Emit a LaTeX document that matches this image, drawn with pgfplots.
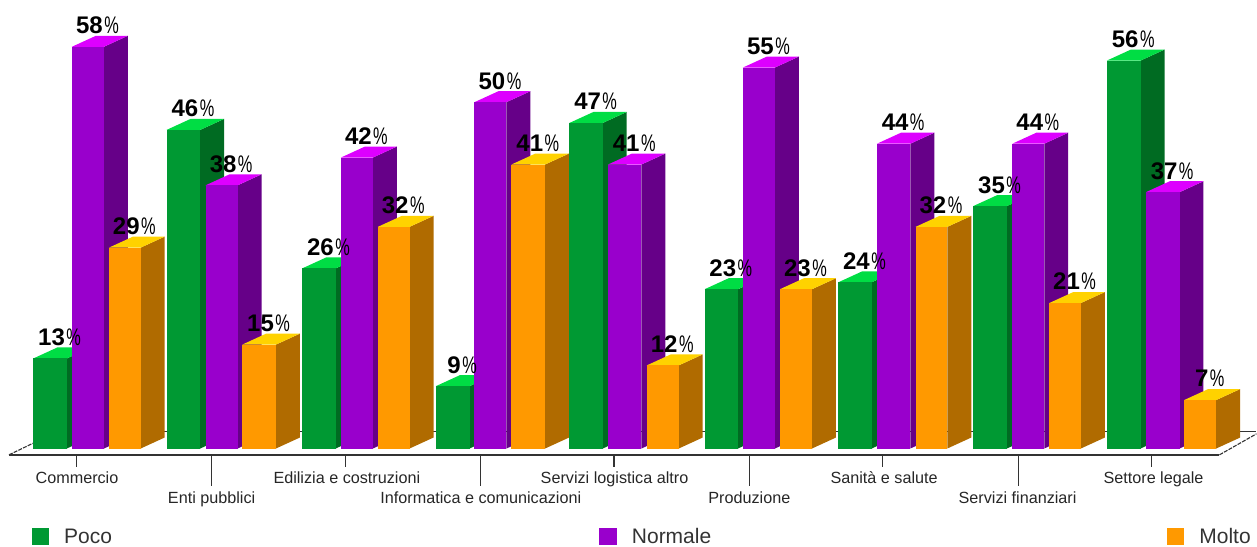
\documentclass[border=0pt]{standalone}
\usepackage{fontspec}
\setmainfont{Liberation Sans}
\usepackage{pgfplots}
\pgfplotsset{compat=1.18}

\definecolor{poco}{HTML}{009933}
\definecolor{pocoside}{HTML}{006B22}
\definecolor{pocotop}{HTML}{00DD44}
\definecolor{normale}{HTML}{9900CC}
\definecolor{normaleside}{HTML}{660088}
\definecolor{normaletop}{HTML}{DD00FF}
\definecolor{molto}{HTML}{FF9900}
\definecolor{moltoside}{HTML}{B06B00}
\definecolor{moltotop}{HTML}{FFD200}
\definecolor{axisline}{HTML}{333333}

% depth of the extruded bars: 24 units right, 11 px up at 6.93 px per percent
\newcommand{\depthx}{24}
\newcommand{\depthy}{1.587}

% value label: bold digits with a condensed regular percent sign
\newcommand{\vallabel}[1]{\fontsize{24}{24}\selectfont\textbf{#1}\hspace{1.5pt}\scalebox{0.68}[1]{\%}}

% one extruded bar: left edge, right edge, percent value, colour name
\newcommand{\drawbar}[4]{%
  \pgfmathsetmacro{\xb}{#2+\depthx}%
  \pgfmathsetmacro{\xa}{#1+\depthx}%
  \pgfmathsetmacro{\yb}{#3+\depthy}%
  \edef\temp{%
    \noexpand\addplot[fill=#4side,draw=none] coordinates {(#2,0) (\xb,\depthy) (\xb,\yb) (#2,#3)} --cycle;
    \noexpand\addplot[fill=#4top,draw=none] coordinates {(#1,#3) (\xa,\yb) (\xb,\yb) (#2,#3)} --cycle;
    \noexpand\addplot[fill=#4,draw=none] coordinates {(#1,0) (#1,#3) (#2,#3) (#2,0)} --cycle;
  }\temp}

% percent label sitting above the back edge of a bar
\newcommand{\drawlabel}[4]{%
  \pgfmathsetmacro{\lx}{(#1+#2+\depthx)/2-2.5}%
  \pgfmathsetmacro{\ly}{#3+\depthy+0.3}%
  \edef\temp{\noexpand\node[anchor=base,inner sep=0pt] at (axis cs:\lx,\ly) {\noexpand\vallabel{#3}};}\temp}

% left edge, right edge, value and series of every bar, group by group
\newcommand{\allbars}{%
  \B{33.3}{66.8}{13}{poco}\B{72}{104}{58}{normale}\B{109}{140.7}{29}{molto}%
  \B{166.7}{200.3}{46}{poco}\B{205.7}{237.7}{38}{normale}\B{242.3}{276}{15}{molto}%
  \B{302.3}{335.8}{26}{poco}\B{341}{373}{42}{normale}\B{378}{409.7}{32}{molto}%
  \B{436}{469.7}{9}{poco}\B{474.7}{506.7}{50}{normale}\B{511.7}{545.3}{41}{molto}%
  \B{569.7}{603}{47}{poco}\B{608.3}{641.7}{41}{normale}\B{647}{679}{12}{molto}%
  \B{705}{738.3}{23}{poco}\B{743.3}{775.3}{55}{normale}\B{780.3}{812.3}{23}{molto}%
  \B{838.7}{872}{24}{poco}\B{877.3}{910.7}{44}{normale}\B{916}{947.7}{32}{molto}%
  \B{973.7}{1007.3}{35}{poco}\B{1012.7}{1044.7}{44}{normale}\B{1049.7}{1081.3}{21}{molto}%
  \B{1107.3}{1141}{56}{poco}\B{1146.3}{1180}{37}{normale}\B{1184.7}{1216.7}{7}{molto}%
}

\newcommand{\catlabel}[3]{\node[anchor=base,inner sep=0pt,text=black!85,font=\fontsize{16.2}{16.2}\selectfont] at (axis cs:#1,#2) {#3};}
\newcommand{\legendtext}[2]{\node[anchor=base west,inner sep=0pt,text=black!80,font=\fontsize{21}{21}\selectfont] at (axis cs:#1,-13.75) {#2};}

\begin{document}
\begin{tikzpicture}
\begin{axis}[
  scale only axis,
  width=1257pt, height=547pt,
  xmin=0, xmax=1257,
  ymin=-14.18, ymax=64.75,
  hide axis,
  clip=false,
]
% keep the whole plotting area in the picture's bounding box
\path (rel axis cs:0,0) rectangle (rel axis cs:1,1);

% floor: back edge, front edge and the slanted sides
\addplot[color=axisline,line width=1.1pt] coordinates {(33,2.453) (1257,2.453)};
\addplot[color=axisline,line width=1.5pt] coordinates {(9,-0.909) (1220,-0.909)};
\addplot[color=axisline,line width=1.1pt,dash pattern=on 4pt off 1.2pt] coordinates {(9,-0.909) (33.3,0.78)};
\addplot[color=axisline,line width=1.1pt,dash pattern=on 4pt off 1.2pt] coordinates {(1220,-0.909) (1257,2.12)};

% category ticks, alternating short and long
\addplot[color=axisline,line width=1.1pt] coordinates {(76.3,-0.909) (76.3,-2.6)};
\addplot[color=axisline,line width=1.1pt] coordinates {(211.7,-0.909) (211.7,-5.34)};
\addplot[color=axisline,line width=1.1pt] coordinates {(345.3,-0.909) (345.3,-2.6)};
\addplot[color=axisline,line width=1.1pt] coordinates {(480.7,-0.909) (480.7,-5.34)};
\addplot[color=axisline,line width=1.1pt] coordinates {(614.3,-0.909) (614.3,-2.6)};
\addplot[color=axisline,line width=1.1pt] coordinates {(749.7,-0.909) (749.7,-5.34)};
\addplot[color=axisline,line width=1.1pt] coordinates {(883.3,-0.909) (883.3,-2.6)};
\addplot[color=axisline,line width=1.1pt] coordinates {(1018.7,-0.909) (1018.7,-5.34)};
\addplot[color=axisline,line width=1.1pt] coordinates {(1152.3,-0.909) (1152.3,-2.6)};

% bars, then their labels on top
\let\B\drawbar
\allbars
\let\B\drawlabel
\allbars

% category names on two staggered rows
\catlabel{77}{-5.09}{Commercio}
\catlabel{211.7}{-7.88}{Enti pubblici}
\catlabel{347}{-5.09}{Edilizia e costruzioni}
\catlabel{481}{-7.88}{Informatica e comunicazioni}
\catlabel{614.8}{-5.09}{Servizi logistica altro}
\catlabel{749.7}{-7.88}{Produzione}
\catlabel{884.5}{-5.09}{Sanità e salute}
\catlabel{1018}{-7.88}{Servizi finanziari}
\catlabel{1154}{-5.09}{Settore legale}

% legend swatches and names
\addplot[fill=poco,draw=none] coordinates {(31.7,-11.4) (49.3,-11.4) (49.3,-13.94) (31.7,-13.94)} --cycle;
\addplot[fill=normale,draw=none] coordinates {(599.7,-11.4) (617,-11.4) (617,-13.94) (599.7,-13.94)} --cycle;
\addplot[fill=molto,draw=none] coordinates {(1167.3,-11.4) (1184.7,-11.4) (1184.7,-13.94) (1167.3,-13.94)} --cycle;
\legendtext{64}{Poco}
\legendtext{632}{Normale}
\legendtext{1199.7}{Molto}
\end{axis}
\end{tikzpicture}
\end{document}
